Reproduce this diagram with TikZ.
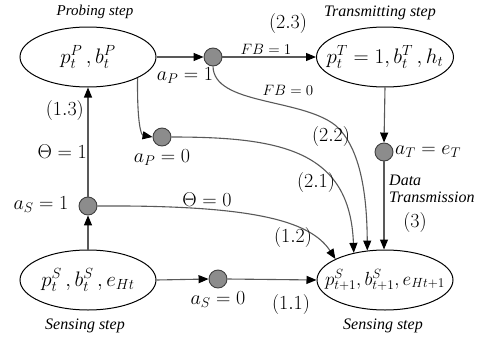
\RequirePackage{fix-cm}
\documentclass[tikz,border=0pt]{standalone}
\usepackage{fontspec}
\setmainfont{Liberation Serif}
\usetikzlibrary{arrows.meta,shapes.geometric}
\begin{document}
\begin{tikzpicture}[x=1pt,y=-1pt,
  st/.style={draw=black,line width=1pt,ellipse,minimum width=136pt,minimum height=60pt,inner xsep=-40pt,inner ysep=-20pt,font=\fontsize{21}{23}\selectfont},
  dot/.style={circle,draw=black!75,line width=0.9pt,fill=black!45,minimum size=18pt,inner sep=0pt},
  ar/.style={draw=black!65,line width=1.1pt,-{Triangle[length=10pt,width=8pt]},arrows={[color=black]}},
  ml/.style={font=\fontsize{20}{22}\selectfont,inner sep=0pt},
  sl/.style={font=\fontsize{15}{17}\selectfont,inner sep=0pt},
  captxt/.style={font=\itshape\fontsize{16}{18}\selectfont,inner sep=0pt}]
\useasboundingbox (0,0) rectangle (482,343);
% ellipses with their state texts
\node[st] (P) at (88,57) {$p_t^P\,,b_t^P$};
\node[st,minimum width=137pt] (T) at (385,57) {$p_t^T=1, b_t^T\,, h_t$};
\node[st] (S) at (88,280) {$p_t^S\,,b_t^S\,,e_{Ht}$};
\node[st,font=\fontsize{19}{21}\selectfont] (N) at (385,280) {$p_{t+1}^S, b_{t+1}^S, e_{Ht+1}$};
% captions
\node[captxt,font=\itshape\fontsize{15}{17}\selectfont] (cP) at (95,12) {Probing step};
\node[captxt] (cT) at (380,13) {Transmitting step};
\node[captxt] (cS) at (85,326) {Sensing step};
\node[captxt] (cN) at (383,326) {Sensing step};
% decision points
\node[dot] (c1) at (213,57) {};
\node[dot] (c2) at (162,137) {};
\node[dot] (c3) at (88,206) {};
\node[dot] (c4) at (218,279) {};
\node[dot] (c5) at (384,152) {};
% connectors
\draw[ar] (P.east) -- (c1.west);
\draw[ar] (c1.east) -- (T.west);
\draw[ar] (c1.south) .. controls (214,105) and (300,98) .. (335,125)
  .. controls (362,148) and (367,200) .. (N.121);
\draw[ar] (P.-23) .. controls (137,122) and (141,135) .. (c2.west);
\draw[ar] (c2.east) .. controls (280,137) and (350,150) .. (N.139);
\draw[ar] (c3.east) .. controls (250,205) and (310,220) .. (N.157);
\draw[ar] (c3.north) -- (P.south);
\draw[ar] (S.north) -- (c3.south);
\draw[ar] (S.east) -- (c4.west);
\draw[ar] (c4.east) -- (N.west);
\draw[ar] (T.south) -- (c5.north);
\draw[ar] (c5.south) -- (c5.south |- N.north);
% labels
\node[ml] (l1) at (185,76) {$a_P=1$};
\node[ml] (l2) at (162,158) {$a_P=0$};
\node[ml] (l3) at (41,205) {$a_S=1$};
\node[ml] (l4) at (218,300) {$a_S=0$};
\node[ml,anchor=west] (l5) at (395,152) {$a_T=e_T$};
\node[ml,anchor=east] (l6) at (87,152) {$\Theta=1$};
\node[ml] (l7) at (207,200) {$\Theta=0$};
\node[sl] (l8) at (266,49) {$FB=1$};
\node[sl] (l9) at (288,90) {$FB=0$};
\node[ml,anchor=east] (n13) at (84,110) {$(1.3)$};
\node[ml] (n23) at (288,23) {$(2.3)$};
\node[ml] (n22) at (331,136) {$(2.2)$};
\node[ml] (n21) at (316,182) {$(2.1)$};
\node[ml] (n12) at (293,237) {$(1.2)$};
\node[ml] (n11) at (291,304) {$(1.1)$};
\node[ml] (n3) at (415,222) {$(3)$};
\node[captxt,anchor=west] (d1) at (389,180) {Data};
\node[captxt,anchor=west] (d2) at (389,197) {Transmission};
\end{tikzpicture}
\end{document}
